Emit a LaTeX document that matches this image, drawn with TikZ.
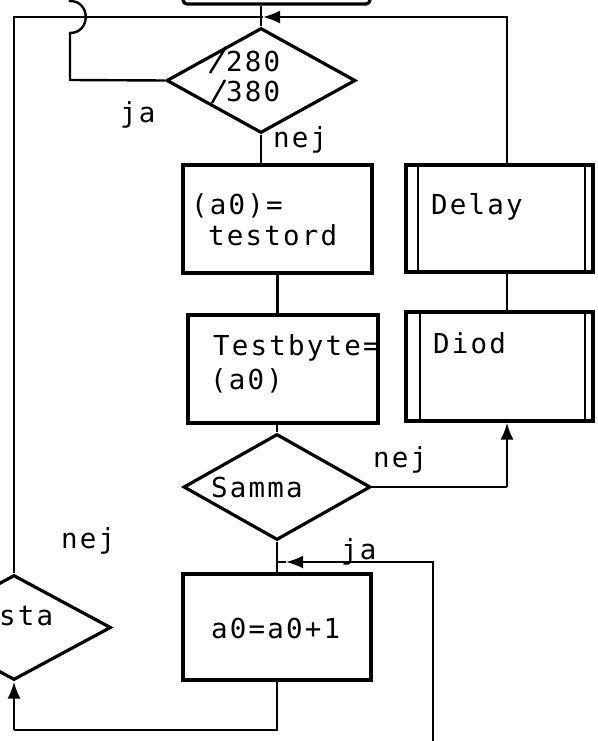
\documentclass[tikz,border=0pt]{standalone}
\usepackage{fontspec}
\newfontfamily\plotfont[LetterSpace=8]{DejaVu Sans Mono}
\usetikzlibrary{shapes.geometric,arrows.meta}
\begin{document}
\begin{tikzpicture}[x=1pt,y=-1pt,
  proc/.style={draw,rectangle,line width=3.2pt,inner sep=0pt},
  dec/.style={draw,diamond,line width=3.2pt,inner sep=0pt},
  conn/.style={line width=2.4pt},
  bar/.style={line width=2pt},
  lbl/.style={font=\plotfont\fontsize{27.5}{32}\selectfont,anchor=base west,inner sep=0pt},
  arr/.style={-{Latex[length=17pt,width=13pt]}}]
\useasboundingbox (0,0) rectangle (597,741);
\clip (0,0) rectangle (597,741);
% shapes
\node[proc,minimum width=187pt,minimum height=44pt,rounded corners=4pt] (top) at (276.5,-18) {};
\node[dec,minimum width=189pt,minimum height=105pt] (d1) at (261,80.5) {};
\node[proc,minimum width=189pt,minimum height=108pt] (b1) at (277.5,219) {};
\node[proc,minimum width=190pt,minimum height=108pt] (b2) at (283,369) {};
\node[dec,minimum width=187pt,minimum height=106pt] (sam) at (277,487) {};
\node[proc,minimum width=188pt,minimum height=106pt] (b3) at (277,627) {};
\node[proc,minimum width=187pt,minimum height=107pt] (delay) at (499.5,218.5) {};
\node[proc,minimum width=187pt,minimum height=109pt] (diod) at (499.5,366.5) {};
\node[dec,minimum width=194pt,minimum height=105pt] (sta) at (14,627.5) {};
% double bars
\draw[bar] ([xshift=14pt]delay.north west) -- ([xshift=14pt]delay.south west);
\draw[bar] ([xshift=-10pt]delay.north east) -- ([xshift=-10pt]delay.south east);
\draw[bar] ([xshift=16pt]diod.north west) -- ([xshift=16pt]diod.south west);
\draw[bar] ([xshift=-10pt]diod.north east) -- ([xshift=-10pt]diod.south east);
% labels
\node[lbl] (t280) at (226,72) {280};
\node[lbl] (t380) at (226,102) {380};
\draw[conn] (210,73) -- (226,47);
\draw[conn] (212,103) -- (225,80);
\node[lbl] (tja1) at (120,122) {ja};
\node[lbl] (tnej1) at (273,147) {nej};
\node[lbl] (ta0) at (191,214) {(a0)=};
\node[lbl] (ttest) at (208,245) {testord};
\node[lbl] (tdelay) at (431,214) {Delay};
\node[lbl] (tdiod) at (433,353) {Diod};
\node[lbl] (ttb) at (213,355) {Testbyte=};
\node[lbl] (ta0b) at (210,389) {(a0)};
\node[lbl] (tsam) at (211,497) {Samma};
\node[lbl] (tnej2) at (373,467) {nej};
\node[lbl] (tnej3) at (61,548) {nej};
\node[lbl] (tsta) at (-1,625) {sta};
\node[lbl] (tinc) at (211,638) {a0=a0+1};
\node[lbl] (tja2) at (341,559) {ja};
% connectors
\coordinate (tl) at (14,17);
\coordinate (tr) at (507,17);
\coordinate (tj) at (263,17);
\coordinate (ta) at (285,17);
\draw[conn] (top.south -| d1.north) -- (d1.north);
\draw[conn] (sta.north) -- (tl) -- (tj);
\draw[conn] (delay.north -| tr) -- (tr) -- (ta);
\draw[conn,arr] (ta) -- (tj);
\coordinate (jl) at (70,80);
\coordinate (h1) at (70,33);
\coordinate (h2) at (70,1);
\coordinate (jtop) at (72,-8);
\draw[conn] (d1.west) -- (jl) -- (h1) .. controls (91,33) and (91,1) .. (h2) -- (jtop);
\draw[conn] (d1.south) -- (d1.south |- b1.north);
\draw[conn] (b1.south) -- (b1.south |- b2.north);
\draw[conn] (sam.north |- b2.south) -- (sam.north);
\coordinate (sr) at (507,487);
\draw[conn] (sam.east) -- (sr);
\draw[conn,arr] (sr) -- (diod.south -| sr);
\draw[conn] (delay.south -| sr) -- (diod.north -| sr);
\draw[conn] (sam.south) -- (b3.north);
\coordinate (jb) at (433,750);
\coordinate (jc) at (433,562);
\coordinate (jar) at (304,562);
\coordinate (jal) at (286,562);
\coordinate (jj) at (277,562);
\draw[conn] (jb) -- (jc) -- (jar);
\draw[conn,arr] (jar) -- (jal);
\draw[conn] (jal) -- (jj);
\coordinate (bl) at (14,730);
\coordinate (br) at (277,730);
\draw[conn] (b3.south) -- (br) -- (bl);
\draw[conn,arr] (bl) -- (sta.south);
\end{tikzpicture}
\end{document}
